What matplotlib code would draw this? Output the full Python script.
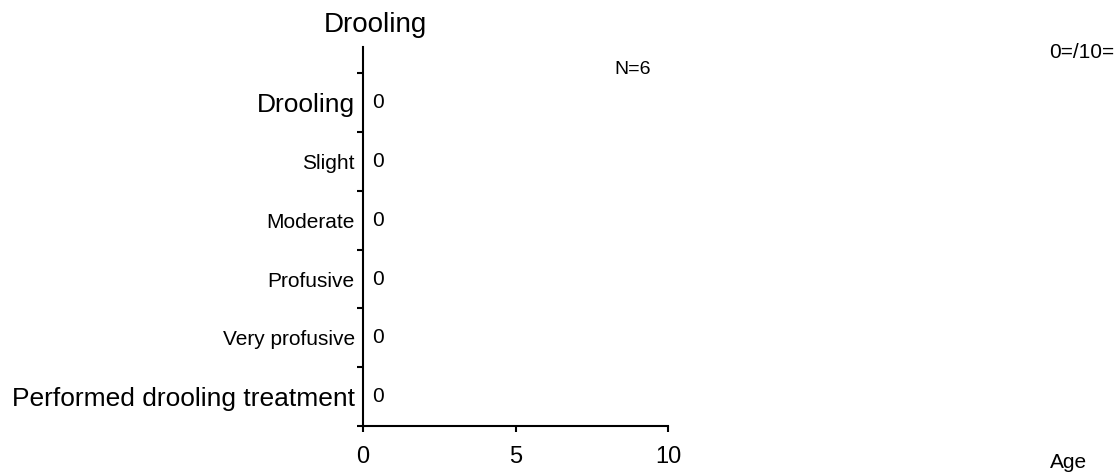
import matplotlib
matplotlib.use("Agg")
import matplotlib.pyplot as plt
import numpy as np

categories = ["Drooling", "Slight", "Moderate", "Profusive", "Very profusive",
              "Performed drooling treatment"]
values = [0, 0, 0, 0, 0, 0]
big_labels = ["Drooling", "Performed drooling treatment"]
x_ticks = [0, 5, 10]
title = "Drooling"
n_text = "N=6"
corner_text = "0=/10="
age_text = "Age"

plt.rcParams['font.family'] = ['Liberation Sans', 'DejaVu Sans']

W, H = 1120, 475
fig = plt.figure(figsize=(W / 100, H / 100), dpi=100)
ax = fig.add_axes([363 / W, 1 - 426 / H, (668 - 363) / W, (426 - 47) / H])

y = np.arange(len(categories))
ax.barh(y, values, height=0.6, color="#808080")
ax.set_xlim(0, 10)
ax.set_ylim(5.5, -0.95)

for s in ["top", "right"]:
    ax.spines[s].set_visible(False)
for s in ["left", "bottom"]:
    ax.spines[s].set_linewidth(1.5)

ax.set_yticks(y)
ax.set_yticklabels(categories)
for lbl in ax.get_yticklabels():
    lbl.set_fontsize(19 if lbl.get_text() in big_labels else 15)
ax.set_yticks(np.arange(-0.5, len(categories), 1.0), minor=True)
ax.tick_params(axis="y", which="major", length=0, pad=6)
ax.tick_params(axis="y", which="minor", length=4.5, width=1.5, direction="out")

ax.set_xticks(x_ticks)
ax.set_xticklabels([str(t) for t in x_ticks], fontsize=17)
ax.tick_params(axis="x", which="major", length=4.5, width=1.5, pad=10, direction="out")

for i, v in enumerate(values):
    ax.annotate(str(v), xy=(v, i), xytext=(6.5, 0), textcoords="offset points",
                va="center", ha="left", fontsize=15)

fig.text(375 / W, 1 - 32 / H, title, ha="center", va="baseline", fontsize=20)
fig.text(633 / W, 1 - 70 / H, n_text, ha="center", va="center", fontsize=14)
fig.text(1049 / W, 1 - 53 / H, corner_text, ha="left", va="center", fontsize=15)
fig.text(1050 / W, 1 - 463 / H, age_text, ha="left", va="center", fontsize=15)

fig.savefig("out.png", dpi=100)
